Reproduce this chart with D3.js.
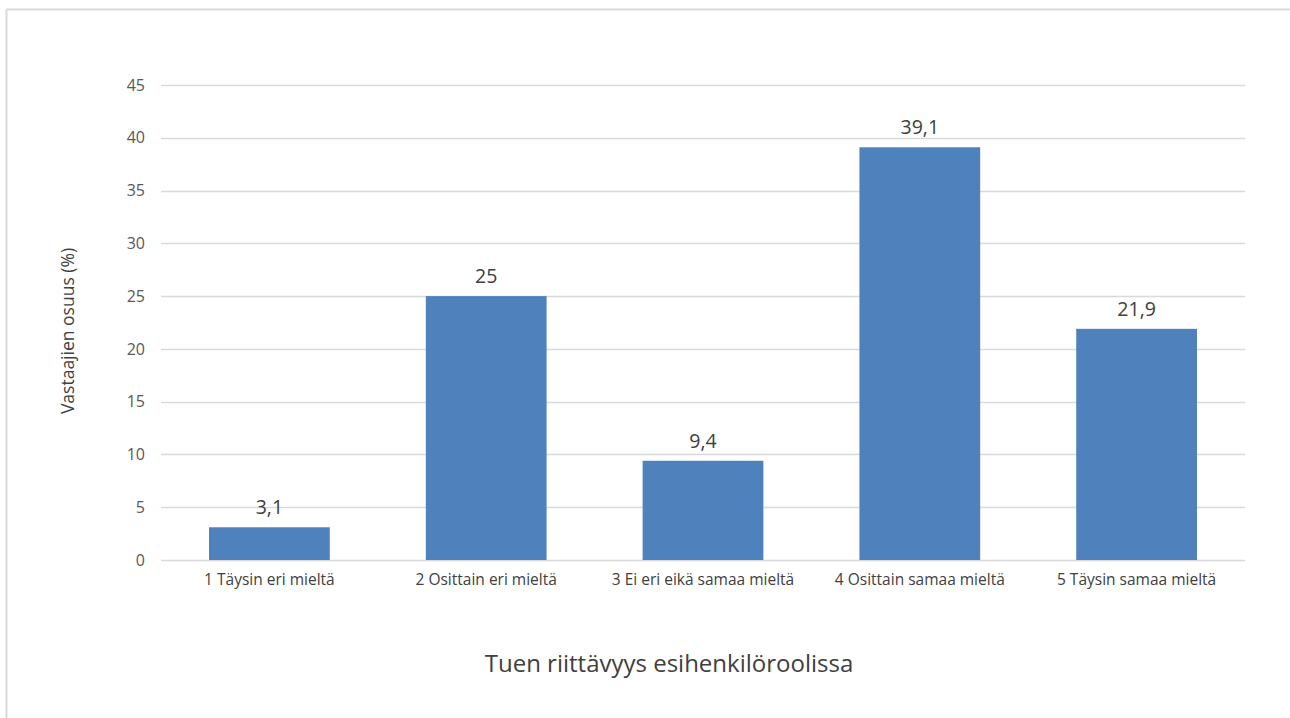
<!DOCTYPE html>
<html>
<head>
<meta charset="utf-8">
<script src="https://cdn.jsdelivr.net/npm/d3@7"></script>
<style>
  html, body { margin: 0; padding: 0; background: #fff; }
  svg { display: block; }
  text { font-family: "Open Sans", "Liberation Sans", sans-serif; }
</style>
</head>
<body>
<svg id="chart" width="1290" height="718"></svg>
<script>
// Survey responses: share of respondents per answer (%)
const categories = [
  "1 Täysin eri mieltä",
  "2 Osittain eri mieltä",
  "3 Ei eri eikä samaa mieltä",
  "4 Osittain samaa mieltä",
  "5 Täysin samaa mieltä"
];
const values = [3.1, 25, 9.4, 39.1, 21.9];
const valueLabels = ["3,1", "25", "9,4", "39,1", "21,9"];
const yTicks = [0, 5, 10, 15, 20, 25, 30, 35, 40, 45];
const xTitle = "Tuen riittävyys esihenkilöroolissa";
const yTitle = "Vastaajien osuus (%)";

const svg = d3.select("#chart");

// Outer frame of the chart area
svg.append("line").attr("x1", 6.5).attr("x2", 1290).attr("y1", 9.5).attr("y2", 9.5)
  .attr("stroke", "#d9d9d9").attr("stroke-width", 2);
svg.append("line").attr("x1", 6.5).attr("x2", 6.5).attr("y1", 9.5).attr("y2", 718)
  .attr("stroke", "#d9d9d9").attr("stroke-width", 2);

const plot = { left: 161, right: 1245, top: 85, bottom: 560 };

const x = d3.scaleBand().domain(categories)
  .range([plot.left, plot.right]).paddingInner(0.443).paddingOuter(0.2215);
const y = d3.scaleLinear().domain([0, 45]).range([plot.bottom, plot.top]);

// Horizontal gridlines
svg.append("g").selectAll("line").data(yTicks).join("line")
  .attr("x1", plot.left).attr("x2", plot.right)
  .attr("y1", d => Math.round(y(d)) + 0.5).attr("y2", d => Math.round(y(d)) + 0.5)
  .attr("stroke", "#d9d9d9").attr("stroke-width", 1.3);

// Y axis tick labels
const yAxis = d3.axisLeft(y).tickValues(yTicks).tickSize(0).tickPadding(0);
const gy = svg.append("g").attr("transform", `translate(${plot.left - 16},0)`).call(yAxis);
gy.select(".domain").remove();
gy.selectAll("text").attr("font-size", 16).attr("fill", "#595959")
  .style("font-family", "'Open Sans', 'Liberation Sans', sans-serif");

// Bars
svg.append("g").selectAll("rect").data(values).join("rect")
  .attr("x", (d, i) => x(categories[i]))
  .attr("width", x.bandwidth())
  .attr("y", d => y(d))
  .attr("height", d => y(0) - y(d))
  .attr("fill", "#4f81bd");

// Value labels
svg.append("g").selectAll("text").data(values).join("text")
  .attr("x", (d, i) => x(categories[i]) + x.bandwidth() / 2)
  .attr("y", d => y(d) - 13)
  .attr("text-anchor", "middle")
  .attr("font-size", 19.5)
  .attr("fill", "#404040")
  .text((d, i) => valueLabels[i]);

// X axis category labels
const xAxis = d3.axisBottom(x).tickSize(0).tickPadding(0);
const gx = svg.append("g").attr("transform", `translate(0,${plot.bottom + 14})`).call(xAxis);
gx.select(".domain").remove();
gx.selectAll("text").attr("font-size", 15.5).attr("fill", "#404040")
  .style("font-family", "'Open Sans', 'Liberation Sans', sans-serif");

// Axis titles
svg.append("text")
  .attr("x", 669).attr("y", 672)
  .attr("text-anchor", "middle").attr("font-size", 24).attr("fill", "#404040")
  .text(xTitle);
svg.append("text")
  .attr("transform", "translate(74,331) rotate(-90)")
  .attr("text-anchor", "middle").attr("font-size", 17.5).attr("fill", "#404040")
  .text(yTitle);
</script>
</body>
</html>
